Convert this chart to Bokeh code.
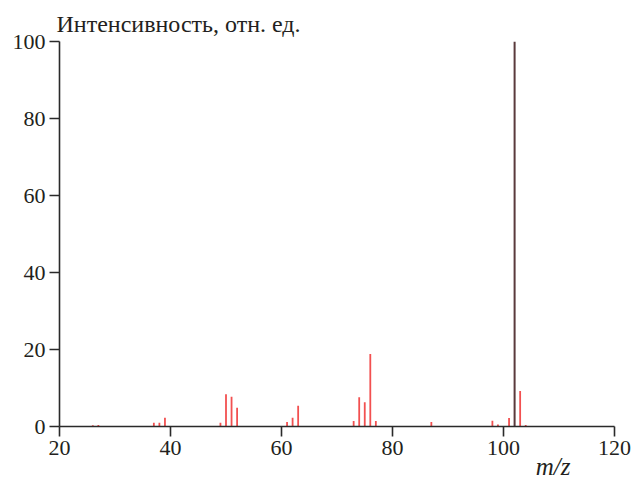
from bokeh.plotting import figure
from bokeh.models import Range1d, FixedTicker, Title
from bokeh.embed import file_html
from bokeh.resources import INLINE

# data
red_mz = [26, 27, 37, 38, 39, 49, 50, 51, 52, 61, 62, 63, 73, 74, 75, 76, 77, 87, 98, 99, 101, 103, 104]
red_int = [0.3, 0.4, 1.0, 1.0, 2.3, 1.0, 8.4, 7.7, 4.9, 1.2, 2.3, 5.4, 1.4, 7.6, 6.3, 18.8, 1.4, 1.2, 1.5, 0.5, 2.2, 9.2, 0.4]
base_mz = [102]
base_int = [100]
x_ticks = [20, 40, 60, 80, 100, 120]
y_ticks = [0, 20, 40, 60, 80, 100]
y_title = "Интенсивность, отн. ед."
x_title = "m/z"

FONT = "Liberation Serif"
TXT = "#231f20"

top_title = Title(text=y_title, align="left", offset=-3, text_font=FONT, text_font_size="24px",
                  text_font_style="normal", text_color=TXT, standoff=9)

p = figure(width=634, height=478, output_backend="svg", toolbar_location=None,
           title=top_title,
           x_range=Range1d(20, 120), y_range=Range1d(0, 100),
           min_border_left=59, min_border_right=20, min_border_top=41, min_border_bottom=52)
p.outline_line_color = None
p.grid.visible = False
p.background_fill_color = "white"

for ax in (p.xaxis[0], p.yaxis[0]):
    ax.axis_line_color = "#2a2a2a"
    ax.axis_line_width = 1.6
    ax.major_tick_line_color = "#2a2a2a"
    ax.major_tick_line_width = 1.6
    ax.major_tick_out = 10
    ax.major_tick_in = 0
    ax.minor_tick_line_color = None
    ax.major_label_text_font = FONT
    ax.major_label_text_font_size = "22px"
    ax.major_label_text_color = TXT
    ax.major_label_standoff = 4

p.xaxis.ticker = FixedTicker(ticks=x_ticks)
p.yaxis.ticker = FixedTicker(ticks=y_ticks)

p.add_layout(Title(text=x_title, align="right", offset=44, standoff=-14,
                   text_font=FONT, text_font_size="25px", text_font_style="italic",
                   text_color=TXT), "below")

p.segment(x0=red_mz, y0=[0] * len(red_mz), x1=red_mz, y1=red_int,
          line_color="#f25050", line_width=1.8)
p.segment(x0=base_mz, y0=[0] * len(base_mz), x1=base_mz, y1=base_int,
          line_color="#5a3a3c", line_width=2.0)

open("out.html", "w").write(file_html(p, INLINE))
